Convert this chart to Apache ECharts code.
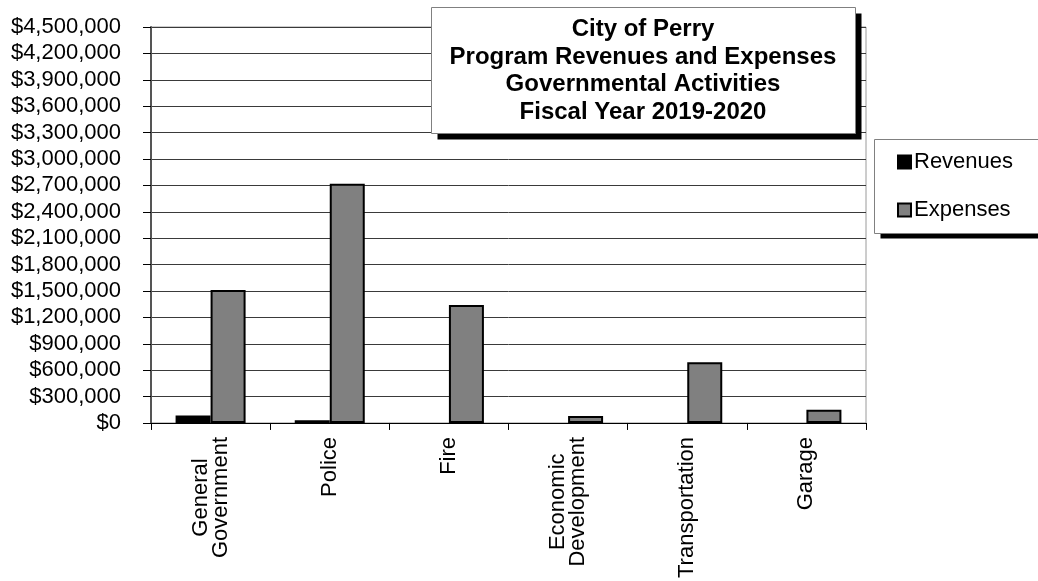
<!DOCTYPE html>
<html>
<head>
<meta charset="utf-8">
<script src="https://cdn.jsdelivr.net/npm/echarts@6/dist/echarts.min.js"></script>
<style>
html,body{margin:0;padding:0;background:#fff;}
#chart{width:1038px;height:581px;}
</style>
</head>
<body>
<div id="chart"></div>
<script>
const titleLines = ['City of Perry', 'Program Revenues and Expenses', 'Governmental Activities', 'Fiscal Year 2019-2020'];
const categories = ['General\nGovernment', 'Police', 'Fire', 'Economic\nDevelopment', 'Transportation', 'Garage'];
const revenues = [85000, 30000, 0, 0, 0, 0];
const expenses = [1510000, 2720000, 1340000, 80000, 690000, 150000];
const seriesNames = ['Revenues', 'Expenses'];
const yMin = 0, yMax = 4500000, yStep = 300000;

const FONT = 'Liberation Sans';
const chart = echarts.init(document.getElementById('chart'), null, {renderer: 'canvas'});
const fmtMoney = v => '$' + Math.round(v).toString().replace(/\B(?=(\d{3})+(?!\d))/g, ',');
// zero-valued bars are invisible in the reference (no outline)
const toData = arr => arr.map(v => v === 0 ? {value: 0, itemStyle: {borderWidth: 0}} : v);

function boxWithShadow(x, y, w, h, dx, dy) {
  return [
    {type: 'rect', z: 14, silent: true, shape: {x: x + dx, y: y + dy, width: w, height: h}, style: {fill: '#000'}},
    {type: 'rect', z: 15, silent: true, shape: {x: x, y: y, width: w, height: h}, style: {fill: '#fff', stroke: '#808080', lineWidth: 1}}
  ];
}

chart.setOption({
  animation: false,
  backgroundColor: '#fff',
  textStyle: {fontFamily: FONT},
  title: {
    text: titleLines.join('\n'),
    left: 643, top: 16, textAlign: 'center', padding: 0, z: 20,
    textStyle: {fontFamily: FONT, fontSize: 24, fontWeight: 'bold', color: '#000', lineHeight: 27.5}
  },
  graphic: [
    ...boxWithShadow(431.5, 7.5, 424, 126, 6, 6),
    ...boxWithShadow(874.5, 139.5, 200, 94, 6, 5)
  ],
  legend: {
    orient: 'vertical', left: 897, top: 151, z: 20,
    itemWidth: 13, itemHeight: 13, itemGap: 26, padding: 0,
    icon: 'rect',
    textStyle: {fontFamily: FONT, fontSize: 22, color: '#000', padding: [0, 0, 0, -2]},
    data: seriesNames
  },
  grid: {left: 151, right: 172, top: 27, bottom: 158, show: true, borderColor: '#9a9a9a', borderWidth: 1, backgroundColor: 'transparent'},
  xAxis: {
    type: 'category', data: categories,
    axisLine: {lineStyle: {color: '#000', width: 1}},
    axisTick: {show: true, length: 7, lineStyle: {color: '#000'}},
    axisLabel: {
      rotate: 90, margin: 14, interval: 0, color: '#000', fontFamily: FONT, fontSize: 22, lineHeight: 20,
      formatter: v => v.split('\n').map(s => '{c|' + s + '}').join('\n'),
      rich: {c: {align: 'center', fontFamily: FONT, fontSize: 22, color: '#000', lineHeight: 20}}
    }
  },
  yAxis: {
    type: 'value', min: yMin, max: yMax, interval: yStep,
    axisLine: {show: true, lineStyle: {color: '#555', width: 2}},
    axisTick: {show: true, length: 8, lineStyle: {color: '#000'}},
    splitLine: {show: true, lineStyle: {color: '#3a3a3a', width: 1}},
    axisLabel: {margin: 30, color: '#000', fontFamily: FONT, fontSize: 22, formatter: fmtMoney}
  },
  series: [
    {name: seriesNames[0], type: 'bar', data: toData(revenues), barWidth: 35, barGap: '0%',
     itemStyle: {color: '#000', borderColor: '#000', borderWidth: 2}},
    {name: seriesNames[1], type: 'bar', data: toData(expenses), barWidth: 35, barGap: '0%',
     itemStyle: {color: '#808080', borderColor: '#000', borderWidth: 2}}
  ]
});
</script>
</body>
</html>
